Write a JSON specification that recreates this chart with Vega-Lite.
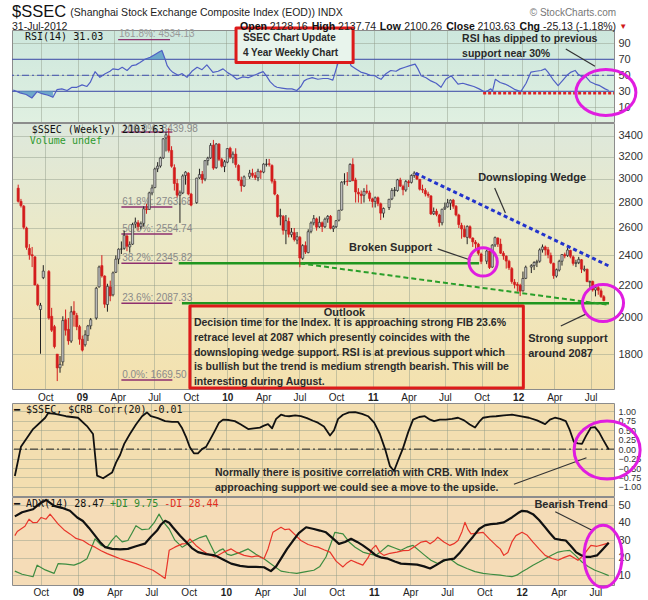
{
"$schema":"https://vega.github.io/schema/vega-lite/v6.json",
"background":"#ffffff",
"padding":{"left":11,"top":3,"right":2,"bottom":0},
"spacing":-1,
"config":{
 "font":"Liberation Sans",
 "view":{"stroke":"#8c8c8c","strokeWidth":1},
 "axis":{"labelFont":"Liberation Sans","labelColor":"#333333","labelFontSize":11,"gridColor":"#8f9a88","gridOpacity":0.45,"gridWidth":1,"labelOverlap":false}
},
"datasets":{
"px":[
{"d":"2008-07-25","o":2920,"h":2950,"l":2800,"c":2810},{"d":"2008-08-01","o":2810,"h":2830,"l":2760,"c":2775},{"d":"2008-08-08","o":2770,"h":2780,"l":2590,"c":2605},{"d":"2008-08-15","o":2600,"h":2610,"l":2440,"c":2457},{"d":"2008-08-22","o":2450,"h":2480,"l":2370,"c":2405},{"d":"2008-08-29","o":2405,"h":2460,"l":2320,"c":2397},{"d":"2008-09-05","o":2390,"h":2395,"l":2200,"c":2202},{"d":"2008-09-12","o":2200,"h":2210,"l":2070,"c":2079},{"d":"2008-09-19","o":2050,"h":2090,"l":1802,"c":2075},{"d":"2008-09-26","o":2250,"h":2333,"l":2240,"c":2293},{"d":"2008-10-10","o":2290,"h":2300,"l":1990,"c":2000},{"d":"2008-10-17","o":2010,"h":2060,"l":1920,"c":1930},{"d":"2008-10-24","o":1950,"h":1960,"l":1830,"c":1840},{"d":"2008-10-31","o":1800,"h":1800,"l":1664,"c":1729},{"d":"2008-11-07","o":1730,"h":1790,"l":1705,"c":1747},{"d":"2008-11-14","o":1760,"h":2010,"l":1740,"c":1985},{"d":"2008-11-21","o":1990,"h":2050,"l":1900,"c":1930},{"d":"2008-11-28","o":1935,"h":2000,"l":1850,"c":1871},{"d":"2008-12-05","o":1870,"h":2070,"l":1860,"c":2036},{"d":"2008-12-12","o":2040,"h":2100,"l":1950,"c":2020},{"d":"2008-12-19","o":2015,"h":2030,"l":1930,"c":1950},{"d":"2008-12-26","o":1950,"h":1960,"l":1850,"c":1880},
{"d":"2009-01-02","o":1880,"h":1900,"l":1814,"c":1821},{"d":"2009-01-09","o":1850,"h":1930,"l":1840,"c":1904},{"d":"2009-01-16","o":1900,"h":1960,"l":1870,"c":1954},{"d":"2009-01-23","o":1955,"h":2000,"l":1935,"c":1990},{"d":"2009-02-06","o":2000,"h":2190,"l":1990,"c":2181},{"d":"2009-02-13","o":2190,"h":2330,"l":2185,"c":2320},{"d":"2009-02-20","o":2330,"h":2402,"l":2250,"c":2261},{"d":"2009-02-27","o":2260,"h":2265,"l":2060,"c":2082},{"d":"2009-03-06","o":2080,"h":2210,"l":2037,"c":2193},{"d":"2009-03-13","o":2190,"h":2230,"l":2100,"c":2133},{"d":"2009-03-20","o":2140,"h":2290,"l":2130,"c":2281},{"d":"2009-03-27","o":2285,"h":2400,"l":2280,"c":2374},{"d":"2009-04-03","o":2375,"h":2450,"l":2340,"c":2444},{"d":"2009-04-10","o":2445,"h":2500,"l":2410,"c":2445},{"d":"2009-04-17","o":2450,"h":2580,"l":2440,"c":2545},{"d":"2009-04-24","o":2540,"h":2550,"l":2430,"c":2465},{"d":"2009-05-01","o":2460,"h":2500,"l":2420,"c":2477},{"d":"2009-05-08","o":2480,"h":2640,"l":2475,"c":2626},{"d":"2009-05-15","o":2630,"h":2680,"l":2600,"c":2645},{"d":"2009-05-22","o":2640,"h":2660,"l":2580,"c":2611},{"d":"2009-05-29","o":2610,"h":2650,"l":2590,"c":2633},{"d":"2009-06-05","o":2635,"h":2770,"l":2610,"c":2750},{"d":"2009-06-12","o":2750,"h":2790,"l":2710,"c":2743},{"d":"2009-06-19","o":2745,"h":2890,"l":2740,"c":2880},{"d":"2009-06-26","o":2880,"h":2950,"l":2860,"c":2922},{"d":"2009-07-03","o":2925,"h":3100,"l":2920,"c":3088},{"d":"2009-07-10","o":3090,"h":3150,"l":3060,"c":3114},{"d":"2009-07-17","o":3115,"h":3200,"l":3100,"c":3189},{"d":"2009-07-24","o":3190,"h":3380,"l":3180,"c":3372},{"d":"2009-07-31","o":3380,"h":3440,"l":3250,"c":3412},{"d":"2009-08-07","o":3400,"h":3478,"l":3240,"c":3260},{"d":"2009-08-14","o":3260,"h":3300,"l":3100,"c":3113},{"d":"2009-08-21","o":3100,"h":3130,"l":2900,"c":2960},{"d":"2009-08-28","o":2960,"h":3000,"l":2840,"c":2861},{"d":"2009-09-04","o":2860,"h":2900,"l":2639,"c":2880},{"d":"2009-09-11","o":2880,"h":3040,"l":2870,"c":3026},{"d":"2009-09-18","o":3030,"h":3068,"l":2950,"c":3060},{"d":"2009-09-25","o":3050,"h":3060,"l":2860,"c":2871},{"d":"2009-10-02","o":2870,"h":2880,"l":2770,"c":2779},{"d":"2009-10-16","o":2800,"h":3010,"l":2790,"c":3007},{"d":"2009-10-23","o":3010,"h":3090,"l":3000,"c":3038},{"d":"2009-10-30","o":3040,"h":3070,"l":2960,"c":2995},{"d":"2009-11-06","o":3000,"h":3170,"l":2980,"c":3164},{"d":"2009-11-13","o":3165,"h":3200,"l":3120,"c":3187},{"d":"2009-11-20","o":3190,"h":3330,"l":3180,"c":3308},{"d":"2009-11-27","o":3310,"h":3361,"l":3080,"c":3096},{"d":"2009-12-04","o":3100,"h":3330,"l":3090,"c":3321},{"d":"2009-12-11","o":3320,"h":3330,"l":3160,"c":3176},{"d":"2009-12-18","o":3175,"h":3190,"l":3100,"c":3113},{"d":"2009-12-25","o":3110,"h":3170,"l":3060,"c":3153},
{"d":"2010-01-01","o":3150,"h":3280,"l":3140,"c":3277},{"d":"2010-01-08","o":3280,"h":3295,"l":3180,"c":3196},{"d":"2010-01-15","o":3190,"h":3250,"l":3140,"c":3224},{"d":"2010-01-22","o":3225,"h":3280,"l":3100,"c":3128},{"d":"2010-01-29","o":3120,"h":3130,"l":2980,"c":2989},{"d":"2010-02-05","o":2990,"h":3020,"l":2890,"c":2940},{"d":"2010-02-12","o":2940,"h":3030,"l":2930,"c":3018},{"d":"2010-02-26","o":3020,"h":3080,"l":3000,"c":3051},{"d":"2010-03-05","o":3050,"h":3090,"l":3010,"c":3031},{"d":"2010-03-12","o":3030,"h":3060,"l":2990,"c":3013},{"d":"2010-03-19","o":3010,"h":3090,"l":2980,"c":3067},{"d":"2010-03-26","o":3065,"h":3080,"l":3000,"c":3060},{"d":"2010-04-02","o":3060,"h":3140,"l":3050,"c":3132},{"d":"2010-04-09","o":3130,"h":3180,"l":3110,"c":3132},{"d":"2010-04-16","o":3135,"h":3180,"l":3110,"c":3130},{"d":"2010-04-23","o":3120,"h":3130,"l":2960,"c":2980},{"d":"2010-04-30","o":2980,"h":3000,"l":2860,"c":2870},{"d":"2010-05-07","o":2860,"h":2870,"l":2680,"c":2688},{"d":"2010-05-14","o":2690,"h":2750,"l":2620,"c":2697},{"d":"2010-05-21","o":2690,"h":2700,"l":2550,"c":2583},{"d":"2010-05-28","o":2580,"h":2700,"l":2480,"c":2656},{"d":"2010-06-04","o":2650,"h":2680,"l":2530,"c":2553},{"d":"2010-06-11","o":2550,"h":2600,"l":2530,"c":2569},{"d":"2010-06-18","o":2565,"h":2600,"l":2500,"c":2514},{"d":"2010-06-25","o":2510,"h":2570,"l":2480,"c":2535},{"d":"2010-07-02","o":2530,"h":2540,"l":2319,"c":2382},{"d":"2010-07-09","o":2380,"h":2480,"l":2370,"c":2470},{"d":"2010-07-16","o":2470,"h":2500,"l":2410,"c":2424},{"d":"2010-07-23","o":2420,"h":2590,"l":2415,"c":2572},{"d":"2010-07-30","o":2575,"h":2650,"l":2560,"c":2638},{"d":"2010-08-06","o":2640,"h":2700,"l":2620,"c":2672},{"d":"2010-08-13","o":2670,"h":2680,"l":2580,"c":2606},{"d":"2010-08-20","o":2610,"h":2690,"l":2600,"c":2643},{"d":"2010-08-27","o":2640,"h":2650,"l":2570,"c":2611},{"d":"2010-09-03","o":2610,"h":2680,"l":2600,"c":2667},{"d":"2010-09-10","o":2670,"h":2700,"l":2640,"c":2689},{"d":"2010-09-17","o":2690,"h":2700,"l":2590,"c":2598},{"d":"2010-09-24","o":2595,"h":2620,"l":2570,"c":2610},{"d":"2010-10-01","o":2610,"h":2660,"l":2600,"c":2656},{"d":"2010-10-08","o":2660,"h":2740,"l":2650,"c":2738},{"d":"2010-10-15","o":2740,"h":2980,"l":2735,"c":2971},{"d":"2010-10-22","o":2975,"h":3050,"l":2950,"c":2975},{"d":"2010-10-29","o":2980,"h":3060,"l":2940,"c":2978},{"d":"2010-11-05","o":2980,"h":3140,"l":2975,"c":3129},{"d":"2010-11-12","o":3130,"h":3186,"l":2980,"c":2985},{"d":"2010-11-19","o":2990,"h":3010,"l":2800,"c":2888},{"d":"2010-11-26","o":2885,"h":2920,"l":2800,"c":2871},{"d":"2010-12-03","o":2870,"h":2900,"l":2790,"c":2857},{"d":"2010-12-10","o":2860,"h":2920,"l":2800,"c":2893},{"d":"2010-12-17","o":2895,"h":2950,"l":2870,"c":2885},{"d":"2010-12-24","o":2880,"h":2900,"l":2810,"c":2834},{"d":"2010-12-31","o":2830,"h":2840,"l":2760,"c":2808},
{"d":"2011-01-07","o":2810,"h":2850,"l":2760,"c":2839},{"d":"2011-01-14","o":2840,"h":2850,"l":2770,"c":2791},{"d":"2011-01-21","o":2790,"h":2800,"l":2661,"c":2715},{"d":"2011-01-28","o":2715,"h":2760,"l":2680,"c":2752},{"d":"2011-02-11","o":2760,"h":2830,"l":2740,"c":2827},{"d":"2011-02-18","o":2830,"h":2920,"l":2820,"c":2900},{"d":"2011-02-25","o":2900,"h":2930,"l":2850,"c":2905},{"d":"2011-03-04","o":2900,"h":3000,"l":2890,"c":2992},{"d":"2011-03-11","o":2990,"h":3010,"l":2930,"c":2938},{"d":"2011-03-18","o":2935,"h":2950,"l":2860,"c":2907},{"d":"2011-03-25","o":2905,"h":2990,"l":2890,"c":2977},{"d":"2011-04-01","o":2975,"h":2990,"l":2930,"c":2967},{"d":"2011-04-08","o":2970,"h":3040,"l":2960,"c":3030},{"d":"2011-04-15","o":3030,"h":3067,"l":3010,"c":3051},{"d":"2011-04-22","o":3050,"h":3060,"l":2990,"c":2999},{"d":"2011-04-29","o":2995,"h":3000,"l":2900,"c":2911},{"d":"2011-05-06","o":2910,"h":2950,"l":2880,"c":2904},{"d":"2011-05-13","o":2900,"h":2920,"l":2850,"c":2871},{"d":"2011-05-20","o":2870,"h":2890,"l":2840,"c":2859},{"d":"2011-05-27","o":2855,"h":2860,"l":2700,"c":2709},{"d":"2011-06-03","o":2710,"h":2760,"l":2700,"c":2728},{"d":"2011-06-10","o":2730,"h":2750,"l":2690,"c":2705},{"d":"2011-06-17","o":2700,"h":2710,"l":2610,"c":2642},{"d":"2011-06-24","o":2640,"h":2750,"l":2620,"c":2746},{"d":"2011-07-01","o":2750,"h":2800,"l":2740,"c":2762},{"d":"2011-07-08","o":2765,"h":2830,"l":2760,"c":2797},{"d":"2011-07-15","o":2795,"h":2826,"l":2740,"c":2820},{"d":"2011-07-22","o":2820,"h":2830,"l":2750,"c":2770},{"d":"2011-07-29","o":2770,"h":2780,"l":2690,"c":2701},{"d":"2011-08-05","o":2700,"h":2710,"l":2600,"c":2626},{"d":"2011-08-12","o":2620,"h":2640,"l":2520,"c":2593},{"d":"2011-08-19","o":2590,"h":2620,"l":2530,"c":2534},{"d":"2011-08-26","o":2530,"h":2620,"l":2480,"c":2612},{"d":"2011-09-02","o":2610,"h":2620,"l":2520,"c":2528},{"d":"2011-09-09","o":2525,"h":2530,"l":2460,"c":2497},{"d":"2011-09-16","o":2495,"h":2510,"l":2440,"c":2482},{"d":"2011-09-23","o":2480,"h":2490,"l":2400,"c":2415},{"d":"2011-09-30","o":2410,"h":2420,"l":2340,"c":2359},{"d":"2011-10-14","o":2360,"h":2440,"l":2340,"c":2431},{"d":"2011-10-21","o":2430,"h":2440,"l":2307,"c":2317},{"d":"2011-10-28","o":2320,"h":2480,"l":2315,"c":2473},{"d":"2011-11-04","o":2475,"h":2536,"l":2460,"c":2528},{"d":"2011-11-11","o":2525,"h":2530,"l":2460,"c":2481},{"d":"2011-11-18","o":2480,"h":2520,"l":2410,"c":2416},{"d":"2011-11-25","o":2415,"h":2430,"l":2370,"c":2397},{"d":"2011-12-02","o":2395,"h":2400,"l":2310,"c":2361},{"d":"2011-12-09","o":2360,"h":2370,"l":2300,"c":2315},{"d":"2011-12-16","o":2310,"h":2320,"l":2210,"c":2224},{"d":"2011-12-23","o":2220,"h":2240,"l":2180,"c":2205},{"d":"2011-12-30","o":2205,"h":2220,"l":2160,"c":2199},
{"d":"2012-01-06","o":2200,"h":2210,"l":2132,"c":2163},{"d":"2012-01-13","o":2165,"h":2290,"l":2160,"c":2244},{"d":"2012-01-20","o":2245,"h":2330,"l":2240,"c":2319},{"d":"2012-02-03","o":2320,"h":2340,"l":2280,"c":2330},{"d":"2012-02-10","o":2330,"h":2360,"l":2300,"c":2351},{"d":"2012-02-17","o":2350,"h":2370,"l":2320,"c":2357},{"d":"2012-02-24","o":2360,"h":2450,"l":2350,"c":2439},{"d":"2012-03-02","o":2440,"h":2478,"l":2420,"c":2460},{"d":"2012-03-09","o":2460,"h":2470,"l":2400,"c":2439},{"d":"2012-03-16","o":2440,"h":2460,"l":2380,"c":2405},{"d":"2012-03-23","o":2400,"h":2420,"l":2340,"c":2349},{"d":"2012-03-30","o":2345,"h":2350,"l":2242,"c":2263},{"d":"2012-04-06","o":2260,"h":2310,"l":2250,"c":2302},{"d":"2012-04-13","o":2300,"h":2370,"l":2290,"c":2359},{"d":"2012-04-20","o":2360,"h":2410,"l":2330,"c":2406},{"d":"2012-04-27","o":2405,"h":2420,"l":2380,"c":2396},{"d":"2012-05-04","o":2400,"h":2453,"l":2390,"c":2438},{"d":"2012-05-11","o":2435,"h":2440,"l":2380,"c":2394},{"d":"2012-05-18","o":2390,"h":2400,"l":2330,"c":2345},{"d":"2012-05-25","o":2345,"h":2370,"l":2320,"c":2350},{"d":"2012-06-01","o":2350,"h":2390,"l":2340,"c":2373},{"d":"2012-06-08","o":2370,"h":2375,"l":2280,"c":2306},{"d":"2012-06-15","o":2300,"h":2330,"l":2290,"c":2306},{"d":"2012-06-22","o":2305,"h":2310,"l":2220,"c":2224},{"d":"2012-06-29","o":2220,"h":2230,"l":2180,"c":2225},{"d":"2012-07-06","o":2225,"h":2230,"l":2160,"c":2170},{"d":"2012-07-13","o":2170,"h":2200,"l":2130,"c":2185},{"d":"2012-07-20","o":2185,"h":2200,"l":2140,"c":2168},{"d":"2012-07-27","o":2165,"h":2180,"l":2120,"c":2129},{"d":"2012-08-03","o":2128,"h":2138,"l":2100,"c":2104}
],
"rsi":[
{"d":"2008-07-25","v":31.6},{"d":"2008-08-11","v":28},{"d":"2008-08-26","v":26},{"d":"2008-09-09","v":21.6},{"d":"2008-09-22","v":29.5},{"d":"2008-10-04","v":27},{"d":"2008-10-19","v":25},{"d":"2008-10-31","v":22.5},{"d":"2008-11-10","v":32},{"d":"2008-11-22","v":33},{"d":"2008-12-05","v":31},{"d":"2008-12-17","v":35},{"d":"2008-12-29","v":35},{"d":"2009-01-11","v":38},{"d":"2009-01-23","v":36},{"d":"2009-01-31","v":41},{"d":"2009-02-12","v":54.5},{"d":"2009-02-24","v":47.5},{"d":"2009-03-09","v":52},{"d":"2009-03-21","v":55},{"d":"2009-03-28","v":58},{"d":"2009-04-10","v":57},{"d":"2009-04-20","v":60},{"d":"2009-05-02","v":56},{"d":"2009-05-14","v":62},{"d":"2009-05-24","v":63},{"d":"2009-06-03","v":66},{"d":"2009-06-15","v":70},{"d":"2009-06-28","v":72.5},{"d":"2009-07-10","v":76},{"d":"2009-07-20","v":79},{"d":"2009-07-27","v":81},{"d":"2009-08-04","v":70},{"d":"2009-08-09","v":62},{"d":"2009-08-16","v":57},{"d":"2009-08-23","v":53.7},{"d":"2009-09-05","v":50},{"d":"2009-09-15","v":52},{"d":"2009-09-27","v":47.5},{"d":"2009-10-09","v":55},{"d":"2009-10-22","v":60},{"d":"2009-11-03","v":57},{"d":"2009-11-15","v":63},{"d":"2009-11-23","v":58},{"d":"2009-11-30","v":53.7},{"d":"2009-12-13","v":55},{"d":"2009-12-25","v":58},{"d":"2010-01-06","v":53},{"d":"2010-01-16","v":50},{"d":"2010-01-28","v":45},{"d":"2010-02-12","v":48},{"d":"2010-02-25","v":47},{"d":"2010-03-09","v":49.5},{"d":"2010-03-21","v":52},{"d":"2010-04-03","v":54.5},{"d":"2010-04-10","v":50},{"d":"2010-04-20","v":42},{"d":"2010-04-30","v":37},{"d":"2010-05-07","v":35},{"d":"2010-05-19","v":34},{"d":"2010-06-01","v":33},{"d":"2010-06-13","v":33},{"d":"2010-06-25","v":31},{"d":"2010-07-05","v":36},{"d":"2010-07-13","v":43},{"d":"2010-07-20","v":45},{"d":"2010-08-02","v":47},{"d":"2010-08-16","v":45},{"d":"2010-08-29","v":46},{"d":"2010-09-10","v":46},{"d":"2010-09-22","v":44},{"d":"2010-10-05","v":66},{"d":"2010-10-15","v":76},{"d":"2010-10-24","v":80},{"d":"2010-11-06","v":62},{"d":"2010-11-18","v":58},{"d":"2010-11-30","v":54},{"d":"2010-12-13","v":52},{"d":"2010-12-23","v":50},{"d":"2011-01-04","v":49.5},{"d":"2011-01-11","v":47},{"d":"2011-01-19","v":45},{"d":"2011-01-31","v":52},{"d":"2011-02-12","v":56},{"d":"2011-02-25","v":55},{"d":"2011-03-07","v":58},{"d":"2011-03-19","v":60},{"d":"2011-03-31","v":62},{"d":"2011-04-13","v":64},{"d":"2011-04-20","v":58},{"d":"2011-04-28","v":49.5},{"d":"2011-05-10","v":47},{"d":"2011-05-22","v":43},{"d":"2011-06-04","v":40},{"d":"2011-06-16","v":35},{"d":"2011-06-28","v":45},{"d":"2011-07-11","v":49.5},{"d":"2011-07-20","v":44},{"d":"2011-07-28","v":39},{"d":"2011-08-09","v":40},{"d":"2011-08-22","v":38},{"d":"2011-09-05","v":36},{"d":"2011-09-18","v":33},{"d":"2011-10-02","v":29},{"d":"2011-10-10","v":31},{"d":"2011-10-17","v":33},{"d":"2011-10-21","v":30},{"d":"2011-10-28","v":45},{"d":"2011-11-09","v":41},{"d":"2011-11-21","v":39},{"d":"2011-12-03","v":36},{"d":"2011-12-16","v":32},{"d":"2011-12-30","v":29.5},{"d":"2012-01-12","v":40},{"d":"2012-01-24","v":54},{"d":"2012-02-05","v":55},{"d":"2012-02-18","v":56},{"d":"2012-02-28","v":58},{"d":"2012-03-06","v":54},{"d":"2012-03-18","v":45},{"d":"2012-03-31","v":37},{"d":"2012-04-12","v":44},{"d":"2012-04-22","v":50},{"d":"2012-05-02","v":54},{"d":"2012-05-12","v":56},{"d":"2012-05-19","v":51.6},{"d":"2012-05-29","v":48},{"d":"2012-06-05","v":49.5},{"d":"2012-06-18","v":42},{"d":"2012-06-30","v":39},{"d":"2012-07-12","v":37},{"d":"2012-07-25","v":33},{"d":"2012-08-03","v":31}
],
"cor":[
{"d":"2008-07-29","v":-0.71},{"d":"2008-08-13","v":0.06},{"d":"2008-09-12","v":0.53},{"d":"2008-10-12","v":0.83},{"d":"2008-10-19","v":0.95},{"d":"2008-11-05","v":0.93},{"d":"2008-12-02","v":0.87},{"d":"2009-01-01","v":0.83},{"d":"2009-01-23","v":0.61},{"d":"2009-02-07","v":0.4},{"d":"2009-02-17","v":-0.7},{"d":"2009-03-04","v":-0.77},{"d":"2009-03-26","v":-0.62},{"d":"2009-04-05","v":-0.35},{"d":"2009-04-15","v":-0.15},{"d":"2009-04-25","v":0.14},{"d":"2009-05-09","v":0.4},{"d":"2009-05-24","v":0.65},{"d":"2009-06-08","v":0.87},{"d":"2009-06-20","v":0.97},{"d":"2009-06-30","v":0.87},{"d":"2009-07-17","v":0.82},{"d":"2009-08-04","v":0.74},{"d":"2009-08-21","v":0.72},{"d":"2009-09-05","v":0.72},{"d":"2009-09-15","v":0.55},{"d":"2009-09-25","v":0.31},{"d":"2009-10-04","v":0.05},{"d":"2009-10-14","v":-0.11},{"d":"2009-10-24","v":-0.11},{"d":"2009-11-03","v":0.0},{"d":"2009-11-13","v":0.06},{"d":"2009-11-23","v":0.25},{"d":"2009-12-05","v":0.49},{"d":"2009-12-15","v":0.7},{"d":"2009-12-25","v":0.78},{"d":"2010-01-09","v":0.77},{"d":"2010-01-23","v":0.74},{"d":"2010-02-07","v":0.65},{"d":"2010-02-25","v":0.53},{"d":"2010-03-11","v":0.55},{"d":"2010-03-26","v":0.57},{"d":"2010-04-05","v":0.62},{"d":"2010-04-15","v":0.66},{"d":"2010-04-25","v":0.55},{"d":"2010-05-05","v":0.8},{"d":"2010-05-17","v":0.91},{"d":"2010-05-27","v":0.88},{"d":"2010-06-06","v":0.87},{"d":"2010-06-21","v":0.89},{"d":"2010-07-05","v":0.87},{"d":"2010-07-20","v":0.82},{"d":"2010-08-04","v":0.75},{"d":"2010-08-16","v":0.7},{"d":"2010-08-31","v":0.6},{"d":"2010-09-15","v":0.36},{"d":"2010-09-25","v":0.5},{"d":"2010-10-05","v":0.8},{"d":"2010-10-17","v":0.91},{"d":"2010-11-01","v":0.97},{"d":"2010-11-16","v":0.98},{"d":"2010-12-03","v":0.93},{"d":"2010-12-18","v":0.87},{"d":"2011-01-02","v":0.7},{"d":"2011-01-16","v":0.4},{"d":"2011-01-29","v":0.0},{"d":"2011-02-10","v":-0.45},{"d":"2011-02-20","v":-0.58},{"d":"2011-03-02","v":-0.3},{"d":"2011-03-14","v":0.02},{"d":"2011-03-27","v":0.45},{"d":"2011-04-08","v":0.78},{"d":"2011-04-23","v":0.85},{"d":"2011-05-07","v":0.87},{"d":"2011-05-20","v":0.78},{"d":"2011-05-30","v":0.74},{"d":"2011-06-13","v":0.78},{"d":"2011-06-28","v":0.78},{"d":"2011-07-13","v":0.8},{"d":"2011-07-28","v":0.83},{"d":"2011-08-12","v":0.76},{"d":"2011-08-26","v":0.65},{"d":"2011-09-08","v":0.57},{"d":"2011-09-18","v":0.72},{"d":"2011-09-28","v":0.83},{"d":"2011-10-15","v":0.86},{"d":"2011-10-30","v":0.87},{"d":"2011-11-18","v":0.89},{"d":"2011-12-08","v":0.91},{"d":"2011-12-28","v":0.87},{"d":"2012-01-19","v":0.83},{"d":"2012-02-08","v":0.76},{"d":"2012-02-28","v":0.66},{"d":"2012-03-11","v":0.78},{"d":"2012-03-23","v":0.83},{"d":"2012-04-05","v":0.8},{"d":"2012-04-19","v":0.74},{"d":"2012-04-29","v":0.5},{"d":"2012-05-09","v":0.19},{"d":"2012-05-19","v":0.15},{"d":"2012-05-29","v":0.14},{"d":"2012-06-08","v":0.35},{"d":"2012-06-20","v":0.57},{"d":"2012-06-30","v":0.58},{"d":"2012-07-10","v":0.45},{"d":"2012-07-20","v":0.25},{"d":"2012-08-03","v":-0.01}
],
"adx":[
{"d":"2008-07-29","v":43.6},{"d":"2008-08-16","v":46},{"d":"2008-09-12","v":47.7},{"d":"2008-09-29","v":51},{"d":"2008-10-14","v":53},{"d":"2008-11-03","v":49.6},{"d":"2008-11-22","v":48.5},{"d":"2008-12-12","v":46.8},{"d":"2008-12-30","v":43},{"d":"2009-01-13","v":41},{"d":"2009-01-28","v":37},{"d":"2009-02-12","v":32.6},{"d":"2009-02-24","v":29},{"d":"2009-03-09","v":26},{"d":"2009-03-26","v":25},{"d":"2009-04-15","v":24.7},{"d":"2009-05-04","v":25},{"d":"2009-05-24","v":26.5},{"d":"2009-06-15","v":28},{"d":"2009-06-30","v":32},{"d":"2009-07-15","v":35.5},{"d":"2009-07-25","v":39},{"d":"2009-08-04","v":41.1},{"d":"2009-08-14","v":40},{"d":"2009-08-23","v":37.4},{"d":"2009-09-10","v":32.5},{"d":"2009-09-25","v":28.9},{"d":"2009-10-09","v":25.5},{"d":"2009-10-24","v":23.2},{"d":"2009-11-13","v":22},{"d":"2009-12-05","v":21.3},{"d":"2009-12-25","v":19},{"d":"2010-01-14","v":16.6},{"d":"2010-02-05","v":15.3},{"d":"2010-02-25","v":14.7},{"d":"2010-03-16","v":14.7},{"d":"2010-04-05","v":14.5},{"d":"2010-04-22","v":12.3},{"d":"2010-05-05","v":15},{"d":"2010-05-17","v":19.4},{"d":"2010-06-01","v":25},{"d":"2010-06-16","v":29.8},{"d":"2010-06-30","v":34},{"d":"2010-07-18","v":37.4},{"d":"2010-08-06","v":36.4},{"d":"2010-08-21","v":35.5},{"d":"2010-09-05","v":34.5},{"d":"2010-09-22","v":31},{"d":"2010-10-07","v":27.9},{"d":"2010-10-22","v":29},{"d":"2010-11-06","v":30.8},{"d":"2010-11-21","v":29},{"d":"2010-12-05","v":27},{"d":"2010-12-23","v":24},{"d":"2011-01-06","v":21.3},{"d":"2011-01-21","v":20},{"d":"2011-02-05","v":19.4},{"d":"2011-02-22","v":17.8},{"d":"2011-03-09","v":16.6},{"d":"2011-03-29","v":16.3},{"d":"2011-04-18","v":16},{"d":"2011-05-05","v":15},{"d":"2011-05-20","v":13.8},{"d":"2011-06-06","v":16},{"d":"2011-06-23","v":18.5},{"d":"2011-07-18","v":19.4},{"d":"2011-08-02","v":23},{"d":"2011-08-19","v":27.9},{"d":"2011-09-03","v":32},{"d":"2011-09-18","v":36.4},{"d":"2011-10-02","v":38.5},{"d":"2011-10-17","v":39.2},{"d":"2011-11-01","v":39.5},{"d":"2011-11-18","v":40.2},{"d":"2011-12-08","v":43},{"d":"2011-12-23","v":45.5},{"d":"2012-01-02","v":46.8},{"d":"2012-01-14","v":46.5},{"d":"2012-01-29","v":44.9},{"d":"2012-02-13","v":41.5},{"d":"2012-02-28","v":37.4},{"d":"2012-03-11","v":34},{"d":"2012-03-23","v":30.8},{"d":"2012-04-07","v":30.2},{"d":"2012-04-19","v":29.8},{"d":"2012-05-02","v":26.5},{"d":"2012-05-14","v":23.2},{"d":"2012-05-26","v":21.5},{"d":"2012-06-08","v":20.4},{"d":"2012-06-20","v":20.5},{"d":"2012-07-05","v":21.3},{"d":"2012-07-20","v":25},{"d":"2012-08-03","v":28.5}
],
"pdi":[
{"d":"2008-07-29","v":12.3},{"d":"2008-08-16","v":10.5},{"d":"2008-09-12","v":9.1},{"d":"2008-09-22","v":15.7},{"d":"2008-10-12","v":13},{"d":"2008-11-03","v":11},{"d":"2008-11-13","v":16.6},{"d":"2008-12-02","v":16.3},{"d":"2008-12-22","v":15.7},{"d":"2009-01-06","v":17},{"d":"2009-01-23","v":19.4},{"d":"2009-02-02","v":25},{"d":"2009-02-12","v":30.8},{"d":"2009-02-27","v":27},{"d":"2009-03-14","v":26},{"d":"2009-03-26","v":30},{"d":"2009-04-05","v":32.6},{"d":"2009-04-20","v":29},{"d":"2009-05-04","v":29.8},{"d":"2009-05-14","v":34},{"d":"2009-05-24","v":38.3},{"d":"2009-06-08","v":36},{"d":"2009-06-25","v":36.4},{"d":"2009-07-08","v":40},{"d":"2009-07-20","v":44.9},{"d":"2009-08-01","v":40},{"d":"2009-08-14","v":36.4},{"d":"2009-08-28","v":30},{"d":"2009-09-15","v":26},{"d":"2009-09-29","v":28},{"d":"2009-10-14","v":29.8},{"d":"2009-10-29","v":31.5},{"d":"2009-11-13","v":32.6},{"d":"2009-11-25","v":27},{"d":"2009-12-05","v":22.3},{"d":"2009-12-15","v":24},{"d":"2009-12-25","v":25},{"d":"2010-01-04","v":22},{"d":"2010-01-14","v":21.3},{"d":"2010-02-05","v":23},{"d":"2010-02-25","v":25},{"d":"2010-03-16","v":22},{"d":"2010-04-05","v":19.4},{"d":"2010-04-25","v":16},{"d":"2010-05-17","v":12.3},{"d":"2010-06-06","v":11.5},{"d":"2010-06-25","v":11},{"d":"2010-07-18","v":12},{"d":"2010-08-06","v":12.8},{"d":"2010-08-21","v":15},{"d":"2010-09-05","v":20.4},{"d":"2010-09-17","v":28},{"d":"2010-09-27","v":34.5},{"d":"2010-10-07","v":34},{"d":"2010-10-17","v":33.6},{"d":"2010-11-01","v":29},{"d":"2010-11-16","v":26},{"d":"2010-12-05","v":23.2},{"d":"2010-12-23","v":22},{"d":"2011-01-06","v":21.3},{"d":"2011-01-21","v":24},{"d":"2011-02-05","v":27},{"d":"2011-02-22","v":25.5},{"d":"2011-03-09","v":24.2},{"d":"2011-03-24","v":26},{"d":"2011-04-08","v":27},{"d":"2011-04-23","v":24},{"d":"2011-05-07","v":21.3},{"d":"2011-05-22","v":18.5},{"d":"2011-06-08","v":16.6},{"d":"2011-06-23","v":18},{"d":"2011-07-08","v":19.4},{"d":"2011-07-28","v":16},{"d":"2011-08-19","v":13.8},{"d":"2011-09-08","v":12},{"d":"2011-09-28","v":11},{"d":"2011-10-17","v":10.5},{"d":"2011-11-09","v":10},{"d":"2011-11-23","v":9.5},{"d":"2011-12-08","v":9.1},{"d":"2011-12-20","v":10},{"d":"2012-01-02","v":11.9},{"d":"2012-01-14","v":13.5},{"d":"2012-01-29","v":15.7},{"d":"2012-02-13","v":17.5},{"d":"2012-02-28","v":19.4},{"d":"2012-03-16","v":21.5},{"d":"2012-03-31","v":23.2},{"d":"2012-04-14","v":23.8},{"d":"2012-04-29","v":24.2},{"d":"2012-05-14","v":21},{"d":"2012-05-29","v":17.5},{"d":"2012-06-13","v":15},{"d":"2012-06-30","v":12.8},{"d":"2012-07-15","v":11.5},{"d":"2012-08-03","v":9.75}
],
"mdi":[
{"d":"2008-07-29","v":32.6},{"d":"2008-08-04","v":35},{"d":"2008-08-13","v":36.4},{"d":"2008-08-23","v":38},{"d":"2008-09-02","v":42},{"d":"2008-09-12","v":40},{"d":"2008-09-22","v":40.2},{"d":"2008-10-02","v":43},{"d":"2008-10-14","v":42},{"d":"2008-10-24","v":44.9},{"d":"2008-11-03","v":42},{"d":"2008-11-13","v":39.2},{"d":"2008-11-27","v":36},{"d":"2008-12-12","v":33.6},{"d":"2008-12-27","v":31},{"d":"2009-01-13","v":29.8},{"d":"2009-01-28","v":27.5},{"d":"2009-02-12","v":26},{"d":"2009-02-27","v":24},{"d":"2009-03-14","v":22.3},{"d":"2009-03-28","v":21},{"d":"2009-04-15","v":19.4},{"d":"2009-05-04","v":18},{"d":"2009-05-24","v":16.6},{"d":"2009-06-15","v":14.5},{"d":"2009-07-05","v":12.8},{"d":"2009-07-20","v":10.5},{"d":"2009-08-04","v":8.1},{"d":"2009-08-09","v":16},{"d":"2009-08-14","v":24.2},{"d":"2009-08-28","v":26},{"d":"2009-09-15","v":27.9},{"d":"2009-09-25","v":28},{"d":"2009-10-04","v":30.8},{"d":"2009-10-19","v":27},{"d":"2009-11-03","v":24.2},{"d":"2009-11-18","v":22},{"d":"2009-12-05","v":20.4},{"d":"2009-12-25","v":23},{"d":"2010-01-14","v":25},{"d":"2010-01-28","v":23},{"d":"2010-02-15","v":21.3},{"d":"2010-03-06","v":20.5},{"d":"2010-03-21","v":21},{"d":"2010-04-05","v":19.4},{"d":"2010-04-15","v":25},{"d":"2010-04-27","v":34.5},{"d":"2010-05-07","v":36},{"d":"2010-05-17","v":37.4},{"d":"2010-05-27","v":36},{"d":"2010-06-06","v":36.4},{"d":"2010-06-21","v":33},{"d":"2010-07-05","v":29.8},{"d":"2010-07-23","v":27.5},{"d":"2010-08-06","v":26.5},{"d":"2010-08-16","v":26},{"d":"2010-08-31","v":24.5},{"d":"2010-09-15","v":23.2},{"d":"2010-09-30","v":18},{"d":"2010-10-17","v":14.7},{"d":"2010-10-27","v":17},{"d":"2010-11-06","v":18.5},{"d":"2010-11-21","v":17},{"d":"2010-12-05","v":15.7},{"d":"2010-12-18","v":20},{"d":"2010-12-28","v":25},{"d":"2011-01-06","v":27},{"d":"2011-01-16","v":23},{"d":"2011-01-26","v":21.3},{"d":"2011-02-10","v":22.5},{"d":"2011-02-27","v":23.2},{"d":"2011-03-14","v":24},{"d":"2011-03-29","v":24.2},{"d":"2011-04-13","v":26.5},{"d":"2011-04-28","v":28.9},{"d":"2011-05-10","v":29.5},{"d":"2011-05-20","v":27.9},{"d":"2011-05-30","v":29.5},{"d":"2011-06-08","v":31.7},{"d":"2011-06-23","v":29},{"d":"2011-07-08","v":27},{"d":"2011-07-18","v":28},{"d":"2011-07-28","v":29.8},{"d":"2011-08-07","v":35},{"d":"2011-08-14","v":40.2},{"d":"2011-08-22","v":36},{"d":"2011-08-29","v":33.6},{"d":"2011-09-13","v":34},{"d":"2011-09-28","v":34.5},{"d":"2011-10-12","v":31},{"d":"2011-10-30","v":27},{"d":"2011-11-09","v":25},{"d":"2011-11-18","v":21.3},{"d":"2011-11-28","v":23},{"d":"2011-12-08","v":29},{"d":"2011-12-18","v":32.6},{"d":"2012-01-02","v":34.5},{"d":"2012-01-14","v":33},{"d":"2012-01-29","v":28.9},{"d":"2012-02-13","v":25},{"d":"2012-02-28","v":21.3},{"d":"2012-03-16","v":19.5},{"d":"2012-03-31","v":18.5},{"d":"2012-04-14","v":20},{"d":"2012-04-29","v":21.3},{"d":"2012-05-09","v":20},{"d":"2012-05-19","v":18.5},{"d":"2012-05-31","v":21},{"d":"2012-06-10","v":24},{"d":"2012-06-20","v":27},{"d":"2012-07-05","v":26.5},{"d":"2012-07-20","v":27.5},{"d":"2012-08-03","v":28.44}
]
},
"vconcat":[
{
"width":602,"height":92,
"view":{"fill":{"gradient":"linear","x1":0,"y1":0,"x2":0,"y2":1,"stops":[{"offset":0,"color":"#cde7dd"},{"offset":1,"color":"#e0f0e1"}]},"stroke":"#8c8c8c"},
"layer":[
{"data":{"values":[{"v":30},{"v":70}]},"mark":{"type":"rule","color":"#3f4fb0","strokeWidth":1,"strokeJoin":"round"},
 "encoding":{"y":{"field":"v","type":"quantitative","scale":{"domain":[-8.4,106.6],"nice":false,"zero":false},"axis":{"orient":"right","values":[10,30,50,70,90],"tickCount":20,"grid":true,"ticks":false,"domain":false,"labels":true,"labelOverlap":false,"labelPadding":4,"title":null}}}},
{"data":{"values":[{"v":50}]},"mark":{"type":"rule","color":"#3f4fb0","strokeWidth":1,"strokeDash":[7,3,2,3],"strokeJoin":"round"},
 "encoding":{"y":{"field":"v","type":"quantitative","scale":{"domain":[-8.4,106.6],"nice":false,"zero":false}}}},
{"data":{"name":"rsi"},"transform":[{"filter":"datum.v >= 70 && year(datum.d) == 2009"}],"mark":{"type":"area","color":"#5b9cc6","opacity":0.85},
 "encoding":{"x":{"field":"d","type":"temporal","scale":{"domain":[{"year":2008,"month":7,"date":22},{"year":2012,"month":8,"date":16}],"nice":false}},
  "y":{"field":"v","type":"quantitative","scale":{"domain":[-8.4,106.6],"nice":false,"zero":false}},"y2":{"datum":70}}},
{"data":{"name":"rsi"},"transform":[{"filter":"datum.v <= 30 && year(datum.d) == 2008"}],"mark":{"type":"area","color":"#5b9cc6","opacity":0.85},
 "encoding":{"x":{"field":"d","type":"temporal","scale":{"domain":[{"year":2008,"month":7,"date":22},{"year":2012,"month":8,"date":16}],"nice":false}},
  "y":{"field":"v","type":"quantitative","scale":{"domain":[-8.4,106.6],"nice":false,"zero":false}},"y2":{"datum":30}}},
{"data":{"name":"rsi"},"mark":{"type":"line","color":"#4f5fc4","strokeWidth":1.2,"strokeJoin":"round"},
 "encoding":{"x":{"field":"d","type":"temporal","scale":{"domain":[{"year":2008,"month":7,"date":22},{"year":2012,"month":8,"date":16}],"nice":false},"axis":{"grid":true,"labels":false,"ticks":false,"domain":false,"minExtent":0,"maxExtent":0,"tickCount":{"interval":"month","step":3},"title":null}},
  "y":{"field":"v","type":"quantitative","scale":{"domain":[-8.4,106.6],"nice":false,"zero":false}}}},
{"data":{"values":[{"d":"2011-09-28","d2":"2012-08-16","v":27.5}]},"mark":{"type":"rule","color":"#e02020","strokeWidth":2.5,"strokeDash":[3,2],"strokeJoin":"round"},
 "encoding":{"x":{"field":"d","type":"temporal","scale":{"domain":[{"year":2008,"month":7,"date":22},{"year":2012,"month":8,"date":16}],"nice":false}},"x2":{"field":"d2"},
  "y":{"field":"v","type":"quantitative","scale":{"domain":[-8.4,106.6],"nice":false,"zero":false}}}},
{"data":{"values":[{"d":"2010-01-26","d2":"2010-11-11","v":109.1,"v2":66}]},"mark":{"type":"rect","fill":"#e8f4ec","stroke":"#dd1a1a","strokeWidth":3,"strokeJoin":"round"},
 "encoding":{"x":{"field":"d","type":"temporal","scale":{"domain":[{"year":2008,"month":7,"date":22},{"year":2012,"month":8,"date":16}],"nice":false}},"x2":{"field":"d2"},
  "y":{"field":"v","type":"quantitative","scale":{"domain":[-8.4,106.6],"nice":false,"zero":false}},"y2":{"field":"v2"}}},
{"data":{"values":[{"d":"2010-02-12","v":96,"t":"SSEC Chart Update\n4 Year Weekly Chart"}]},
 "mark":{"type":"text","align":"left","baseline":"middle","fontWeight":"bold","fontSize":10,"lineHeight":14.5,"lineBreak":"\n","color":"#2a2a2a"},
 "encoding":{"x":{"field":"d","type":"temporal","scale":{"domain":[{"year":2008,"month":7,"date":22},{"year":2012,"month":8,"date":16}],"nice":false}},
  "y":{"field":"v","type":"quantitative","scale":{"domain":[-8.4,106.6],"nice":false,"zero":false}},"text":{"field":"t"}}},
{"data":{"values":[{"d":"2011-08-07","v":95.4,"t":"RSI has dipped to previous\nsupport near 30%"}]},
 "mark":{"type":"text","align":"left","baseline":"middle","fontWeight":"bold","fontSize":10.5,"lineHeight":15,"lineBreak":"\n","color":"#2a2a2a"},
 "encoding":{"x":{"field":"d","type":"temporal","scale":{"domain":[{"year":2008,"month":7,"date":22},{"year":2012,"month":8,"date":16}],"nice":false}},
  "y":{"field":"v","type":"quantitative","scale":{"domain":[-8.4,106.6],"nice":false,"zero":false}},"text":{"field":"t"}}},
{"data":{"values":[{"d":"2012-04-19","d2":"2012-06-30","v":82.9,"v2":61.2},{"d":"2009-04-10","d2":"2009-08-16","v":94.5,"v2":94.5}]},"mark":{"type":"rule","color":"#333333","strokeWidth":1.2,"strokeJoin":"round"},
 "encoding":{"x":{"field":"d","type":"temporal","scale":{"domain":[{"year":2008,"month":7,"date":22},{"year":2012,"month":8,"date":16}],"nice":false}},"x2":{"field":"d2"},
  "y":{"field":"v","type":"quantitative","scale":{"domain":[-8.4,106.6],"nice":false,"zero":false}},"y2":{"field":"v2"},
  "color":{"condition":{"test":"datum.v == 94.5","value":"#8e2f6e"},"value":"#333333"}}},
{"data":{"values":[{"d":"2012-07-27","v":28.5}]},"mark":{"type":"point","shape":"M-1,0A1,0.767,0,1,1,1,0A1,0.767,0,1,1,-1,0Z","size":3600,"filled":false,"color":"#e01ce0","strokeWidth":3,"strokeJoin":"round","opacity":1},
 "encoding":{"x":{"field":"d","type":"temporal","scale":{"domain":[{"year":2008,"month":7,"date":22},{"year":2012,"month":8,"date":16}],"nice":false}},
  "y":{"field":"v","type":"quantitative","scale":{"domain":[-8.4,106.6],"nice":false,"zero":false}}}},
{"data":{"values":[{"d":"2008-08-23","v":97.8,"t":"RSI(14) 31.03"}]},"mark":{"type":"text","align":"left","baseline":"middle","font":"DejaVu Sans Mono","fontSize":10,"color":"#111111"},
 "encoding":{"x":{"field":"d","type":"temporal","scale":{"domain":[{"year":2008,"month":7,"date":22},{"year":2012,"month":8,"date":16}],"nice":false}},
  "y":{"field":"v","type":"quantitative","scale":{"domain":[-8.4,106.6],"nice":false,"zero":false}},"text":{"field":"t"}}},
{"data":{"values":[{"d":"2009-04-12","v":101.6,"t":"161.8%: 4534.13"}]},"mark":{"type":"text","align":"left","baseline":"middle","fontSize":10,"color":"#9a9a9a"},
 "encoding":{"x":{"field":"d","type":"temporal","scale":{"domain":[{"year":2008,"month":7,"date":22},{"year":2012,"month":8,"date":16}],"nice":false}},
  "y":{"field":"v","type":"quantitative","scale":{"domain":[-8.4,106.6],"nice":false,"zero":false}},"text":{"field":"t"}}},
{"data":{"values":[{"d":"2008-07-22","v":129.1,"t":"$SSEC"}]},"mark":{"type":"text","align":"left","baseline":"middle","fontSize":16.5,"color":"#111111"},
 "encoding":{"x":{"field":"d","type":"temporal","scale":{"domain":[{"year":2008,"month":7,"date":22},{"year":2012,"month":8,"date":16}],"nice":false}},
  "y":{"field":"v","type":"quantitative","scale":{"domain":[-8.4,106.6],"nice":false,"zero":false}},"text":{"field":"t"}}},
{"data":{"values":[{"d":"2008-12-13","v":127.9,"t":"(Shanghai Stock Exchange Composite Index (EOD))  INDX"},{"d":"2008-07-22","v":110.8,"t":"31-Jul-2012"}]},"mark":{"type":"text","align":"left","baseline":"middle","fontSize":10.5,"color":"#222222"},
 "encoding":{"x":{"field":"d","type":"temporal","scale":{"domain":[{"year":2008,"month":7,"date":22},{"year":2012,"month":8,"date":16}],"nice":false}},
  "y":{"field":"v","type":"quantitative","scale":{"domain":[-8.4,106.6],"nice":false,"zero":false}},"text":{"field":"t"}}},
{"data":{"values":[{"d":"2012-08-21","v":127.9,"t":"© StockCharts.com"}]},"mark":{"type":"text","align":"right","baseline":"middle","fontSize":10,"color":"#777777"},
 "encoding":{"x":{"field":"d","type":"temporal","scale":{"domain":[{"year":2008,"month":7,"date":22},{"year":2012,"month":8,"date":16}],"nice":false}},
  "y":{"field":"v","type":"quantitative","scale":{"domain":[-8.4,106.6],"nice":false,"zero":false}},"text":{"field":"t"}}},
{"data":{"values":[{"d":"2010-02-05","v":110.8,"t":"Open"},{"d":"2010-08-01","v":110.8,"t":"High"},{"d":"2011-01-16","v":110.8,"t":"Low"},{"d":"2011-06-29","v":110.8,"t":"Close"},{"d":"2011-12-27","v":110.8,"t":"Chg"}]},"mark":{"type":"text","align":"left","baseline":"middle","fontSize":10.5,"fontWeight":"bold","color":"#111111"},
 "encoding":{"x":{"field":"d","type":"temporal","scale":{"domain":[{"year":2008,"month":7,"date":22},{"year":2012,"month":8,"date":16}],"nice":false}},
  "y":{"field":"v","type":"quantitative","scale":{"domain":[-8.4,106.6],"nice":false,"zero":false}},"text":{"field":"t"}}},
{"data":{"values":[{"d":"2010-04-19","v":110.8,"t":"2128.16"},{"d":"2010-10-05","v":110.8,"t":"2137.74"},{"d":"2011-03-17","v":110.8,"t":"2100.26"},{"d":"2011-09-14","v":110.8,"t":"2103.63"},{"d":"2012-02-23","v":110.8,"t":"-25.13 (-1.18%)"}]},"mark":{"type":"text","align":"left","baseline":"middle","fontSize":10.5,"color":"#222222"},
 "encoding":{"x":{"field":"d","type":"temporal","scale":{"domain":[{"year":2008,"month":7,"date":22},{"year":2012,"month":8,"date":16}],"nice":false}},
  "y":{"field":"v","type":"quantitative","scale":{"domain":[-8.4,106.6],"nice":false,"zero":false}},"text":{"field":"t"}}},
{"data":{"values":[{"d":"2012-09-08","v":110.8,"t":"▼"}]},"mark":{"type":"text","align":"center","baseline":"middle","fontSize":8,"color":"#d01818"},
 "encoding":{"x":{"field":"d","type":"temporal","scale":{"domain":[{"year":2008,"month":7,"date":22},{"year":2012,"month":8,"date":16}],"nice":false}},
  "y":{"field":"v","type":"quantitative","scale":{"domain":[-8.4,106.6],"nice":false,"zero":false}},"text":{"field":"t"}}}
]
},
{
"width":602,"height":266,
"view":{"fill":{"gradient":"linear","x1":0,"y1":0,"x2":0,"y2":1,"stops":[{"offset":0,"color":"#dde8dc"},{"offset":0.45,"color":"#ece9c6"},{"offset":1,"color":"#f4e1ae"}]},"stroke":"#8c8c8c"},
"layer":[
{"data":{"values":[{"d":"2009-04-10","d2":"2009-08-16","v":3439.98},{"d":"2009-04-10","d2":"2009-08-16","v":2763.68},{"d":"2009-04-10","d2":"2009-08-16","v":2554.74},{"d":"2009-04-10","d2":"2009-08-16","v":2345.82},{"d":"2009-04-10","d2":"2009-08-16","v":2087.33},{"d":"2009-04-10","d2":"2009-08-16","v":1669.5}]},
 "mark":{"type":"rule","color":"#8e2f6e","strokeWidth":1.5,"strokeJoin":"round"},
 "encoding":{"x":{"field":"d","type":"temporal","scale":{"domain":[{"year":2008,"month":7,"date":22},{"year":2012,"month":8,"date":16}],"nice":false}},"x2":{"field":"d2"},
  "y":{"field":"v","type":"quantitative","scale":{"type":"log","domain":[1626,3531],"nice":false,"zero":false},"axis":{"orient":"right","values":[1800,2000,2200,2400,2600,2800,3000,3200,3400],"tickCount":20,"format":"d","grid":true,"ticks":false,"domain":false,"labels":true,"labelOverlap":false,"labelPadding":4,"title":null}}}},
{"data":{"values":[{"d":"2009-04-12","v":2763.68,"t":"61.8%: 2763.68"},{"d":"2009-04-12","v":2554.74,"t":"50.0%: 2554.74"},{"d":"2009-04-12","v":2345.82,"t":"38.2%: 2345.82"},{"d":"2009-04-12","v":2087.33,"t":"23.6%: 2087.33"},{"d":"2009-04-12","v":1669.5,"t":"0.0%: 1669.50"}]},
 "mark":{"type":"text","align":"left","baseline":"middle","dy":-5,"fontSize":10,"color":"#8a8a8a"},
 "encoding":{"x":{"field":"d","type":"temporal","scale":{"domain":[{"year":2008,"month":7,"date":22},{"year":2012,"month":8,"date":16}],"nice":false}},
  "y":{"field":"v","type":"quantitative","scale":{"type":"log","domain":[1626,3531],"nice":false,"zero":false}},"text":{"field":"t"}}},
{"data":{"values":[{"d":"2009-04-12","v":3439.98,"t":"100.0%: 3439.98"}]},
 "mark":{"type":"text","align":"left","baseline":"middle","dy":-3,"fontSize":10,"color":"#8a8a8a"},
 "encoding":{"x":{"field":"d","type":"temporal","scale":{"domain":[{"year":2008,"month":7,"date":22},{"year":2012,"month":8,"date":16}],"nice":false}},
  "y":{"field":"v","type":"quantitative","scale":{"type":"log","domain":[1626,3531],"nice":false,"zero":false}},"text":{"field":"t"}}},
{"data":{"values":[{"d":"2009-09-01","d2":"2011-09-25","v":2345.82,"v2":2345.82},{"d":"2009-09-09","d2":"2012-08-16","v":2087.33,"v2":2087.33}]},
 "mark":{"type":"rule","color":"#1f961f","strokeWidth":2.5,"strokeJoin":"round"},
 "encoding":{"x":{"field":"d","type":"temporal","scale":{"domain":[{"year":2008,"month":7,"date":22},{"year":2012,"month":8,"date":16}],"nice":false}},"x2":{"field":"d2"},
  "y":{"field":"v","type":"quantitative","scale":{"type":"log","domain":[1626,3531],"nice":false,"zero":false}},"y2":{"field":"v2"}}},
{"data":{"values":[{"d":"2010-07-03","d2":"2012-08-16","v":2345,"v2":2078}]},
 "mark":{"type":"rule","color":"#2a9f2a","strokeWidth":2,"strokeDash":[5,3],"strokeJoin":"round"},
 "encoding":{"x":{"field":"d","type":"temporal","scale":{"domain":[{"year":2008,"month":7,"date":22},{"year":2012,"month":8,"date":16}],"nice":false}},"x2":{"field":"d2"},
  "y":{"field":"v","type":"quantitative","scale":{"type":"log","domain":[1626,3531],"nice":false,"zero":false}},"y2":{"field":"v2"}}},
{"data":{"name":"px"},"mark":{"type":"rule","strokeWidth":1,"strokeJoin":"round"},
 "encoding":{"x":{"field":"d","type":"temporal","scale":{"domain":[{"year":2008,"month":7,"date":22},{"year":2012,"month":8,"date":16}],"nice":false},
   "axis":{"grid":true,"ticks":false,"domain":false,"labels":true,"tickCount":{"interval":"month","step":3},"labelExpr":"month(datum.value)==0 ? timeFormat(datum.value,'%y') : timeFormat(datum.value,'%b')","labelFontWeight":{"condition":{"test":"month(datum.value)==0","value":"bold"},"value":"normal"},"labelFontSize":10,"labelPadding":3,"labelFlush":false,"labelColor":"#222222","title":null}},
  "y":{"field":"l","type":"quantitative","scale":{"type":"log","domain":[1626,3531],"nice":false,"zero":false}},"y2":{"field":"h"},
  "color":{"condition":{"test":"datum.c < datum.o","value":"#d41c1c"},"value":"#222222"}}},
{"data":{"name":"px"},"mark":{"type":"bar","size":2.2,"strokeWidth":0.6,"strokeJoin":"round"},
 "encoding":{"x":{"field":"d","type":"temporal","scale":{"domain":[{"year":2008,"month":7,"date":22},{"year":2012,"month":8,"date":16}],"nice":false}},
  "y":{"field":"o","type":"quantitative","scale":{"type":"log","domain":[1626,3531],"nice":false,"zero":false}},"y2":{"field":"c"},
  "fill":{"condition":{"test":"datum.c < datum.o","value":"#d41c1c"},"value":"#c4c4c4"},
  "stroke":{"condition":{"test":"datum.c < datum.o","value":"#d41c1c"},"value":"#222222"}}},
{"data":{"values":[{"d":"2011-04-18","d2":"2012-08-16","v":3050,"v2":2327}]},
 "mark":{"type":"rule","color":"#2233cc","strokeWidth":3,"strokeDash":[4,3],"strokeJoin":"round"},
 "encoding":{"x":{"field":"d","type":"temporal","scale":{"domain":[{"year":2008,"month":7,"date":22},{"year":2012,"month":8,"date":16}],"nice":false}},"x2":{"field":"d2"},
  "y":{"field":"v","type":"quantitative","scale":{"type":"log","domain":[1626,3531],"nice":false,"zero":false}},"y2":{"field":"v2"}}},
{"data":{"values":[{"d":"2009-09-29","d2":"2012-01-14","v":2071,"v2":1631}]},"mark":{"type":"rect","fillOpacity":0,"stroke":"#dd1a1a","strokeWidth":3,"strokeJoin":"round"},
 "encoding":{"x":{"field":"d","type":"temporal","scale":{"domain":[{"year":2008,"month":7,"date":22},{"year":2012,"month":8,"date":16}],"nice":false}},"x2":{"field":"d2"},
  "y":{"field":"v","type":"quantitative","scale":{"type":"log","domain":[1626,3531],"nice":false,"zero":false}},"y2":{"field":"v2"}}},
{"data":{"values":[{"d":"2011-11-03","d2":"2011-11-30","v":2922,"v2":2716},{"d":"2011-06-13","d2":"2011-09-03","v":2446,"v2":2368},{"d":"2012-04-17","d2":"2012-06-20","v":1954,"v2":2024}]},
 "mark":{"type":"rule","color":"#333333","strokeWidth":1.2,"strokeJoin":"round"},
 "encoding":{"x":{"field":"d","type":"temporal","scale":{"domain":[{"year":2008,"month":7,"date":22},{"year":2012,"month":8,"date":16}],"nice":false}},"x2":{"field":"d2"},
  "y":{"field":"v","type":"quantitative","scale":{"type":"log","domain":[1626,3531],"nice":false,"zero":false}},"y2":{"field":"v2"}}},
{"data":{"values":[{"d":"2012-02-05","v":3008,"t":"Downsloping Wedge"},{"d":"2011-02-15","v":2453,"t":"Broken Support"},{"d":"2010-10-22","v":2032,"t":"Outlook"}]},
 "mark":{"type":"text","align":"center","baseline":"middle","fontWeight":"bold","fontSize":11,"color":"#2a2a2a"},
 "encoding":{"x":{"field":"d","type":"temporal","scale":{"domain":[{"year":2008,"month":7,"date":22},{"year":2012,"month":8,"date":16}],"nice":false}},
  "y":{"field":"v","type":"quantitative","scale":{"type":"log","domain":[1626,3531],"nice":false,"zero":false}},"text":{"field":"t"}}},
{"data":{"values":[{"d":"2012-01-26","v":1881,"t":"Strong support\naround 2087"}]},
 "mark":{"type":"text","align":"left","baseline":"middle","fontWeight":"bold","fontSize":11,"lineHeight":14.5,"lineBreak":"\n","color":"#2a2a2a"},
 "encoding":{"x":{"field":"d","type":"temporal","scale":{"domain":[{"year":2008,"month":7,"date":22},{"year":2012,"month":8,"date":16}],"nice":false}},
  "y":{"field":"v","type":"quantitative","scale":{"type":"log","domain":[1626,3531],"nice":false,"zero":false}},"text":{"field":"t"}}},
{"data":{"values":[{"d":"2009-10-09","v":1971,"t":"Decision time for the Index. It is approaching strong FIB 23.6%\nretrace level at 2087 which presently coincides with the\ndownsloping wedge support. RSI is at previous support which\nis bullish but the trend is medium strength bearish. This will be\ninteresting during August."}]},
 "mark":{"type":"text","align":"left","baseline":"middle","fontWeight":"bold","fontSize":10.5,"lineHeight":14.8,"lineBreak":"\n","color":"#2a2a2a"},
 "encoding":{"x":{"field":"d","type":"temporal","scale":{"domain":[{"year":2008,"month":7,"date":22},{"year":2012,"month":8,"date":16}],"nice":false}},
  "y":{"field":"v","type":"quantitative","scale":{"type":"log","domain":[1626,3531],"nice":false,"zero":false}},"text":{"field":"t"}}},
{"data":{"values":[{"d":"2008-08-28","v":3459,"t":"$SSEC (Weekly) 2103.63"}]},"mark":{"type":"text","align":"left","baseline":"middle","font":"DejaVu Sans Mono","fontSize":10,"color":"#111111"},
 "encoding":{"x":{"field":"d","type":"temporal","scale":{"domain":[{"year":2008,"month":7,"date":22},{"year":2012,"month":8,"date":16}],"nice":false}},
  "y":{"field":"v","type":"quantitative","scale":{"type":"log","domain":[1626,3531],"nice":false,"zero":false}},"text":{"field":"t"}}},
{"data":{"values":[{"d":"2008-08-23","v":3352,"t":"Volume undef"}]},"mark":{"type":"text","align":"left","baseline":"middle","font":"DejaVu Sans Mono","fontSize":10,"color":"#2e9a2e"},
 "encoding":{"x":{"field":"d","type":"temporal","scale":{"domain":[{"year":2008,"month":7,"date":22},{"year":2012,"month":8,"date":16}],"nice":false}},
  "y":{"field":"v","type":"quantitative","scale":{"type":"log","domain":[1626,3531],"nice":false,"zero":false}},"text":{"field":"t"}}},
{"data":{"values":[{"d":"2011-10-05","v":2355}]},"mark":{"type":"point","shape":"circle","size":804,"filled":false,"color":"#e01ce0","strokeWidth":3,"strokeJoin":"round","opacity":1},
 "encoding":{"x":{"field":"d","type":"temporal","scale":{"domain":[{"year":2008,"month":7,"date":22},{"year":2012,"month":8,"date":16}],"nice":false}},
  "y":{"field":"v","type":"quantitative","scale":{"type":"log","domain":[1626,3531],"nice":false,"zero":false}}}},
{"data":{"values":[{"d":"2012-08-01","v":2089}]},"mark":{"type":"point","shape":"M-1,0A1,0.902,0,1,1,1,0A1,0.902,0,1,1,-1,0Z","size":1681,"filled":false,"color":"#e01ce0","strokeWidth":3,"strokeJoin":"round","opacity":1},
 "encoding":{"x":{"field":"d","type":"temporal","scale":{"domain":[{"year":2008,"month":7,"date":22},{"year":2012,"month":8,"date":16}],"nice":false}},
  "y":{"field":"v","type":"quantitative","scale":{"type":"log","domain":[1626,3531],"nice":false,"zero":false}}}}
]
},
{
"width":602,"height":93,
"view":{"fill":"#f3deb0","stroke":"#8c8c8c"},
"layer":[
{"data":{"values":[{"v":0}]},"mark":{"type":"rule","color":"#222222","strokeWidth":1,"strokeDash":[8,3,2,3],"strokeJoin":"round"},
 "encoding":{"y":{"field":"v","type":"quantitative","scale":{"domain":[-1.24,1.22],"nice":false,"zero":false},"axis":{"orient":"right","values":[-1,-0.75,-0.5,-0.25,0,0.25,0.5,0.75,1],"tickCount":20,"format":".2f","grid":true,"ticks":false,"domain":false,"labels":true,"labelFontSize":9,"labelPadding":4,"labelOverlap":false,"title":null}}}},
{"data":{"name":"cor"},"mark":{"type":"line","color":"#111111","strokeWidth":1.8,"strokeJoin":"round"},
 "encoding":{"x":{"field":"d","type":"temporal","scale":{"domain":[{"year":2008,"month":7,"date":22},{"year":2012,"month":8,"date":16}],"nice":false},"axis":{"grid":true,"labels":false,"ticks":false,"domain":false,"minExtent":0,"maxExtent":0,"tickCount":{"interval":"month","step":3},"title":null}},
  "y":{"field":"v","type":"quantitative","scale":{"domain":[-1.24,1.22],"nice":false,"zero":false}}}},
{"data":{"values":[{"d":"2008-07-27","v":1.035,"t":"━ $SSEC, $CRB Corr(20) -0.01"}]},"mark":{"type":"text","align":"left","baseline":"middle","font":"DejaVu Sans Mono","fontSize":10,"color":"#111111"},
 "encoding":{"x":{"field":"d","type":"temporal","scale":{"domain":[{"year":2008,"month":7,"date":22},{"year":2012,"month":8,"date":16}],"nice":false}},
  "y":{"field":"v","type":"quantitative","scale":{"domain":[-1.24,1.22],"nice":false,"zero":false}},"text":{"field":"t"}}},
{"data":{"values":[{"d":"2009-12-05","v":-0.632,"t":"Normally there is positive correlation with CRB. With Index\napproaching support we could see a move to the upside."}]},
 "mark":{"type":"text","align":"left","baseline":"middle","fontWeight":"bold","fontSize":10.5,"lineHeight":15,"lineBreak":"\n","color":"#2a2a2a"},
 "encoding":{"x":{"field":"d","type":"temporal","scale":{"domain":[{"year":2008,"month":7,"date":22},{"year":2012,"month":8,"date":16}],"nice":false}},
  "y":{"field":"v","type":"quantitative","scale":{"domain":[-1.24,1.22],"nice":false,"zero":false}},"text":{"field":"t"}}},
{"data":{"values":[{"d":"2011-12-13","d2":"2012-06-09","v":-0.93,"v2":-0.227}]},"mark":{"type":"rule","color":"#333333","strokeWidth":1.2,"strokeJoin":"round"},
 "encoding":{"x":{"field":"d","type":"temporal","scale":{"domain":[{"year":2008,"month":7,"date":22},{"year":2012,"month":8,"date":16}],"nice":false}},"x2":{"field":"d2"},
  "y":{"field":"v","type":"quantitative","scale":{"domain":[-1.24,1.22],"nice":false,"zero":false}},"y2":{"field":"v2"}}},
{"data":{"values":[{"d":"2012-07-30","v":-0.023}]},"mark":{"type":"point","shape":"M-1,0A1,0.879,0,1,1,1,0A1,0.879,0,1,1,-1,0Z","size":4356,"filled":false,"color":"#e01ce0","strokeWidth":3,"strokeJoin":"round","opacity":1},
 "encoding":{"x":{"field":"d","type":"temporal","scale":{"domain":[{"year":2008,"month":7,"date":22},{"year":2012,"month":8,"date":16}],"nice":false}},
  "y":{"field":"v","type":"quantitative","scale":{"domain":[-1.24,1.22],"nice":false,"zero":false}}}}
]
},
{
"width":602,"height":88,
"view":{"fill":"#f5dcb7","stroke":"#8c8c8c"},
"layer":[
{"data":{"name":"pdi"},"mark":{"type":"line","color":"#3d8c40","strokeWidth":1.2,"strokeJoin":"round"},
 "encoding":{"x":{"field":"d","type":"temporal","scale":{"domain":[{"year":2008,"month":7,"date":22},{"year":2012,"month":8,"date":16}],"nice":false},
   "axis":{"grid":true,"ticks":false,"domain":false,"labels":true,"tickCount":{"interval":"month","step":3},"labelExpr":"month(datum.value)==0 ? timeFormat(datum.value,'%y') : timeFormat(datum.value,'%b')","labelFontWeight":{"condition":{"test":"month(datum.value)==0","value":"bold"},"value":"normal"},"labelFontSize":10,"labelPadding":2,"labelFlush":false,"labelColor":"#222222","title":null}},
  "y":{"field":"v","type":"quantitative","scale":{"domain":[4.36,54.7],"nice":false,"zero":false},"axis":{"orient":"right","values":[10,20,30,40,50],"tickCount":20,"grid":true,"ticks":false,"domain":false,"labels":true,"labelOverlap":false,"labelPadding":4,"title":null}}}},
{"data":{"name":"mdi"},"mark":{"type":"line","color":"#e8352a","strokeWidth":1.2,"strokeJoin":"round"},
 "encoding":{"x":{"field":"d","type":"temporal","scale":{"domain":[{"year":2008,"month":7,"date":22},{"year":2012,"month":8,"date":16}],"nice":false}},
  "y":{"field":"v","type":"quantitative","scale":{"domain":[4.36,54.7],"nice":false,"zero":false}}}},
{"data":{"name":"adx"},"mark":{"type":"line","color":"#111111","strokeWidth":2.2,"strokeJoin":"round"},
 "encoding":{"x":{"field":"d","type":"temporal","scale":{"domain":[{"year":2008,"month":7,"date":22},{"year":2012,"month":8,"date":16}],"nice":false}},
  "y":{"field":"v","type":"quantitative","scale":{"domain":[4.36,54.7],"nice":false,"zero":false}}}},
{"data":{"values":[{"d":"2008-07-27","v":50.7,"t":"━ ADX(14) 28.47"}]},"mark":{"type":"text","align":"left","baseline":"middle","font":"DejaVu Sans Mono","fontSize":10,"color":"#111111"},
 "encoding":{"x":{"field":"d","type":"temporal","scale":{"domain":[{"year":2008,"month":7,"date":22},{"year":2012,"month":8,"date":16}],"nice":false}},
  "y":{"field":"v","type":"quantitative","scale":{"domain":[4.36,54.7],"nice":false,"zero":false}},"text":{"field":"t"}}},
{"data":{"values":[{"d":"2009-03-21","v":50.7,"t":"+DI 9.75"}]},"mark":{"type":"text","align":"left","baseline":"middle","font":"DejaVu Sans Mono","fontSize":10,"color":"#2f8a2f"},
 "encoding":{"x":{"field":"d","type":"temporal","scale":{"domain":[{"year":2008,"month":7,"date":22},{"year":2012,"month":8,"date":16}],"nice":false}},
  "y":{"field":"v","type":"quantitative","scale":{"domain":[4.36,54.7],"nice":false,"zero":false}},"text":{"field":"t"}}},
{"data":{"values":[{"d":"2009-08-02","v":50.7,"t":"-DI 28.44"}]},"mark":{"type":"text","align":"left","baseline":"middle","font":"DejaVu Sans Mono","fontSize":10,"color":"#e0301f"},
 "encoding":{"x":{"field":"d","type":"temporal","scale":{"domain":[{"year":2008,"month":7,"date":22},{"year":2012,"month":8,"date":16}],"nice":false}},
  "y":{"field":"v","type":"quantitative","scale":{"domain":[4.36,54.7],"nice":false,"zero":false}},"text":{"field":"t"}}},
{"data":{"values":[{"d":"2012-05-02","v":50.3,"t":"Bearish Trend"}]},"mark":{"type":"text","align":"center","baseline":"middle","fontWeight":"bold","fontSize":11,"color":"#2a2a2a"},
 "encoding":{"x":{"field":"d","type":"temporal","scale":{"domain":[{"year":2008,"month":7,"date":22},{"year":2012,"month":8,"date":16}],"nice":false}},
  "y":{"field":"v","type":"quantitative","scale":{"domain":[4.36,54.7],"nice":false,"zero":false}},"text":{"field":"t"}}},
{"data":{"values":[{"d":"2012-03-24","d2":"2012-06-24","v":46.3,"v2":35.5}]},"mark":{"type":"rule","color":"#333333","strokeWidth":1.2,"strokeJoin":"round"},
 "encoding":{"x":{"field":"d","type":"temporal","scale":{"domain":[{"year":2008,"month":7,"date":22},{"year":2012,"month":8,"date":16}],"nice":false}},"x2":{"field":"d2"},
  "y":{"field":"v","type":"quantitative","scale":{"domain":[4.36,54.7],"nice":false,"zero":false}},"y2":{"field":"v2"}}},
{"data":{"values":[{"d":"2012-07-20","v":20.8}]},"mark":{"type":"point","shape":"M-0.613,0A0.613,1,0,1,1,0.613,0A0.613,1,0,1,1,-0.613,0Z","size":3844,"filled":false,"color":"#e01ce0","strokeWidth":3,"strokeJoin":"round","opacity":1},
 "encoding":{"x":{"field":"d","type":"temporal","scale":{"domain":[{"year":2008,"month":7,"date":22},{"year":2012,"month":8,"date":16}],"nice":false}},
  "y":{"field":"v","type":"quantitative","scale":{"domain":[4.36,54.7],"nice":false,"zero":false}}}}
]
}
]
}
